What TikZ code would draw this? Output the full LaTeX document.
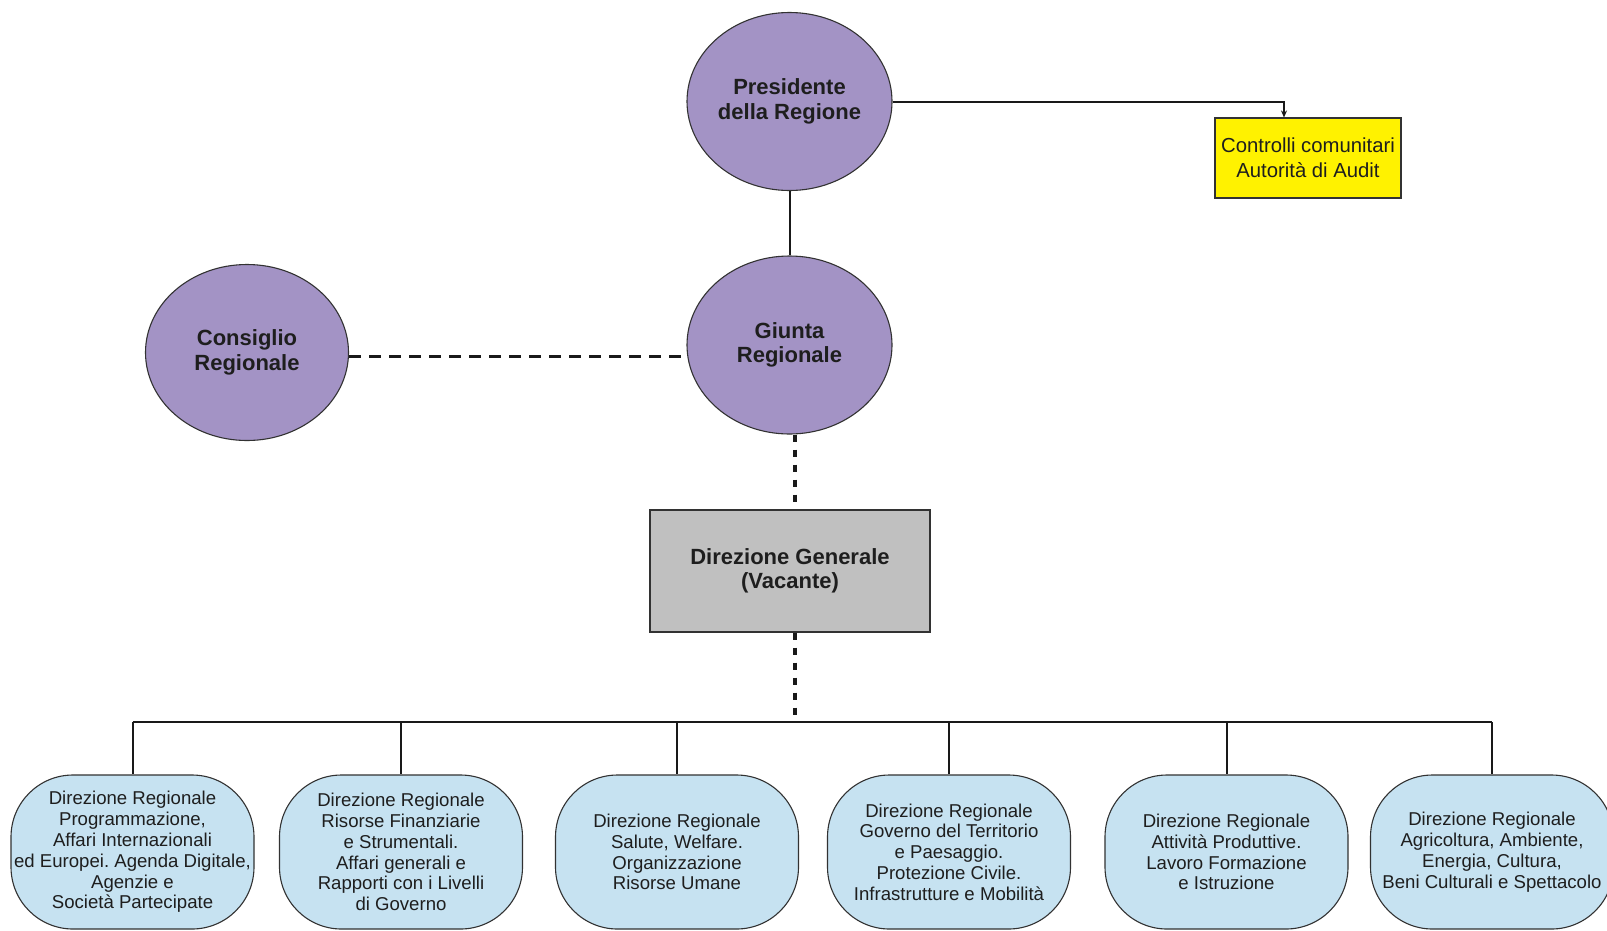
\documentclass[tikz,border=0pt]{standalone}
\usepackage{fontspec}
\setmainfont{Liberation Sans}
\usetikzlibrary{shapes.geometric,arrows.meta}
\definecolor{purp}{RGB}{163,147,197}
\definecolor{lblue}{RGB}{198,226,241}
\definecolor{dgrey}{RGB}{192,192,192}
\definecolor{ink}{RGB}{30,30,30}
\definecolor{edgec}{RGB}{50,50,50}
\frenchspacing
\begin{document}
\begin{tikzpicture}[x=1pt,y=-1pt,
  oval/.style={ellipse, draw=edgec, line width=1.1pt, fill=purp, minimum width=205pt, minimum height=178pt, inner sep=0pt, align=center, font=\fontsize{22}{24.6}\selectfont\bfseries, text=ink},
  dirbox/.style={rectangle, rounded corners=62pt, draw=edgec, line width=1.1pt, fill=lblue, minimum width=243pt, minimum height=154pt, inner sep=0pt, align=center, font=\fontsize{18.6}{20.8}\selectfont, text=ink},
  conn/.style={line width=2pt, draw=black!90},
  dashconn/.style={line width=3pt, draw=black!90, dash pattern=on 12pt off 8pt},
  dotconn/.style={line width=3.5pt, draw=black!90, dash pattern=on 7pt off 8pt}]
\path[use as bounding box, fill=white] (0,0) rectangle (1607,930);
\clip (0,0) rectangle (1607,930);

\node[oval] (pres) at (789.5,101.5) {Presidente\\della Regione};
\node[oval] (giunta) at (789.5,345) {Giunta\\Regionale};
\node[oval, minimum width=203pt, minimum height=176pt] (cons) at (247,352.5) {Consiglio\\Regionale};
\node[rectangle, draw=edgec, line width=1.1pt, fill=yellow, minimum width=186pt, minimum height=80pt, inner sep=0pt, align=center, font=\fontsize{20.3}{24.6}\selectfont, text=ink] (ctrl) at (1308,158) {Controlli comunitari\\Autorità di Audit};
\node[rectangle, draw=edgec, line width=1.1pt, fill=dgrey, minimum width=280pt, minimum height=122pt, inner sep=0pt, align=center, font=\fontsize{22}{24.6}\selectfont\bfseries, text=ink] (dg) at (790,571) {Direzione Generale\\(Vacante)};

\node[dirbox] (d1) at (132.5,852) {Direzione Regionale\\Programmazione,\\Affari Internazionali\\ed Europei. Agenda Digitale,\\Agenzie e\\Società Partecipate};
\node[dirbox] (d2) at (401,852) {Direzione Regionale\\Risorse Finanziarie\\e Strumentali.\\Affari generali e\\Rapporti con i Livelli\\di Governo};
\node[dirbox] (d3) at (677,852) {Direzione Regionale\\Salute, Welfare.\\Organizzazione\\Risorse Umane};
\node[dirbox] (d4) at (949,852) {Direzione Regionale\\Governo del Territorio\\e Paesaggio.\\Protezione Civile.\\Infrastrutture e Mobilità};
\node[dirbox] (d5) at (1226.5,852) {Direzione Regionale\\Attività Produttive.\\Lavoro Formazione\\e Istruzione};
\node[dirbox] (d6) at (1492,852) {Direzione Regionale\\Agricoltura, Ambiente,\\Energia, Cultura,\\Beni Culturali e Spettacolo};

\coordinate (bus) at (795,722);
\coordinate (arr) at (1284,101.5);

\draw[conn] (pres.south) -- (giunta.north);
\draw[conn, -{Stealth[length=7pt,width=6pt]}] (pres.east) -- (arr) -- (arr |- ctrl.north);
\draw[dashconn] ([yshift=-3.5pt]cons.east) -- ([yshift=-3.5pt]cons.east -| giunta.west);
\draw[dotconn] ([xshift=5.5pt]giunta.south) -- ([xshift=5.5pt]giunta.south |- dg.north);
\draw[dotconn] (bus |- dg.south) -- (bus);
\draw[conn] (d1.north |- bus) -- (d6.north |- bus);
\foreach \d in {d1,d2,d3,d4,d5,d6} \draw[conn] (\d.north |- bus) -- (\d.north);
\end{tikzpicture}
\end{document}
